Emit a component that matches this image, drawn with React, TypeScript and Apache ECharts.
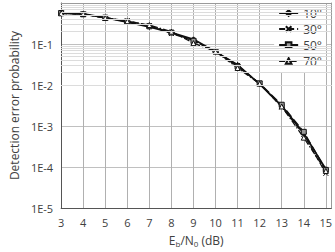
import React, { useEffect, useRef } from "react";
import * as echarts from "echarts";

const snr = [3, 4, 5, 6, 7, 8, 9, 10, 11, 12, 13, 14, 15];
const seriesNames = ["10°", "30°", "50°", "70°"];
const p10 = [0.57, 0.54, 0.44, 0.34, 0.26, 0.19, 0.13, 0.065, 0.031, 0.0105, 0.0031, 0.00066, 0.000088];
const p30 = [0.56, 0.53, 0.43, 0.37, 0.28, 0.18, 0.12, 0.066, 0.03, 0.0108, 0.0029, 0.00062, 0.00007];
const p50 = [0.57, 0.53, 0.44, 0.35, 0.27, 0.19, 0.12, 0.066, 0.028, 0.011, 0.0033, 0.00072, 0.000085];
const p70 = [0.56, 0.54, 0.43, 0.36, 0.29, 0.2, 0.105, 0.066, 0.026, 0.0108, 0.003, 0.00052, 0.00008];
const decades = [-5, -4, -3, -2, -1];
const minorMultipliers = [2, 3, 4, 5, 6, 7, 8, 9];

const FONT = "Open Sans";
const TXT = "#404040";

export default function App() {
  const ref = useRef<HTMLDivElement>(null);
  useEffect(() => {
    if (!ref.current) return;
    const chart = echarts.init(ref.current, null, { renderer: "svg" });
    const minorLines: any[] = [];
    decades.forEach((d) =>
      minorMultipliers.forEach((m) => minorLines.push({ yAxis: m * Math.pow(10, d) }))
    );
    const mk = (ys: number[]) => snr.map((x, i) => [x, ys[i]]);
    const styles = [
      { data: p10, symbol: "diamond", symbolSize: 5, type: "solid", width: 1.8, fill: "#111" },
      { data: p30, symbol: "path://M0,0L10,10M10,0L0,10", symbolSize: 5, type: [6, 3], width: 1.3, fill: "#111" },
      { data: p50, symbol: "rect", symbolSize: 5, type: [8, 3], width: 1.3, fill: "#999" },
      { data: p70, symbol: "triangle", symbolSize: 5, type: [6, 2, 1.5, 2], width: 1.3, fill: "#fff" },
    ];
    const series: any[] = [
      {
        name: "grid-minor",
        type: "line",
        data: mk(p10),
        z: 1,
        silent: true,
        symbol: "none",
        lineStyle: { opacity: 0 },
        markLine: {
          silent: true,
          symbol: "none",
          label: { show: false },
          lineStyle: { color: "#dcdcdc", width: 1, type: "solid" },
          data: minorLines,
        },
      },
      ...styles.map((s, i) => ({
        name: seriesNames[i],
        type: "line",
        data: mk(s.data),
        symbol: s.symbol,
        symbolSize: s.symbolSize,
        showSymbol: true,
        showAllSymbol: true,
        lineStyle: { color: "#111", width: s.width, type: s.type },
        itemStyle: { color: s.fill, borderColor: "#111", borderWidth: 1 },
        z: 3,
      })),
    ];
    const frameAxis = {
      axisTick: { show: false },
      axisLabel: { show: false },
      splitLine: { show: false },
      axisLine: { show: true, lineStyle: { color: "#9a9a9a" } },
    };
    chart.setOption({
      animation: false,
      grid: { left: 55, right: 3, top: 3, bottom: 41 },
      legend: {
        data: seriesNames,
        orient: "vertical",
        right: 9,
        top: 4,
        itemWidth: 19,
        itemHeight: 7,
        itemGap: 2,
        padding: [2, 4, 4, 4],
        backgroundColor: "#fff",
        textStyle: { fontFamily: FONT, fontSize: 12, color: TXT, lineHeight: 14 },
      },
      xAxis: [
        {
          type: "value",
          min: 3,
          max: 15.25,
          interval: 1,
          axisLine: { show: true, lineStyle: { color: "#555" } },
          axisTick: { show: false },
          axisLabel: {
            fontFamily: FONT,
            fontSize: 11,
            color: TXT,
            margin: 9,
            formatter: (v: number) => (Number.isInteger(v) ? String(v) : ""),
          },
          splitLine: { show: true, lineStyle: { color: "#b0b0b0", width: 1 } },
          name: "E{s|b}/N{s|0} (dB)",
          nameLocation: "middle",
          nameGap: 25,
          nameTextStyle: {
            fontFamily: FONT,
            fontSize: 12,
            color: TXT,
            rich: { s: { fontFamily: FONT, fontSize: 8, color: TXT, verticalAlign: "bottom", padding: [6, 0, 0, 0] } },
          },
        },
        { type: "value", position: "top", min: 3, max: 15.25, ...frameAxis },
      ],
      yAxis: [
        {
          type: "log",
          logBase: 10,
          min: 1e-5,
          max: 1,
          axisLine: { show: true, lineStyle: { color: "#555" } },
          axisTick: { show: false },
          axisLabel: {
            fontFamily: FONT,
            fontSize: 11,
            color: TXT,
            margin: 8,
            showMaxLabel: false,
            formatter: (v: number) => "1E" + Math.round(Math.log10(v)),
          },
          splitLine: { show: true, lineStyle: { color: "#c0c0c0", width: 1 } },
          name: "Detection error probability",
          nameLocation: "middle",
          nameGap: 40,
          nameTextStyle: { fontFamily: FONT, fontSize: 12, color: TXT },
        },
        { type: "log", logBase: 10, position: "right", min: 1e-5, max: 1, ...frameAxis },
      ],
      series,
    });
    return () => chart.dispose();
  }, []);
  return <div ref={ref} style={{ width: 335, height: 252, position: "absolute", left: 0, top: 0 }} />;
}
